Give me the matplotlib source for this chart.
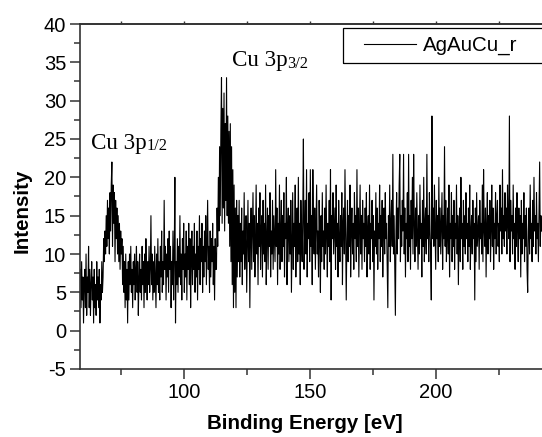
import numpy as np
import matplotlib
matplotlib.use("Agg")
import matplotlib.pyplot as plt
from matplotlib.ticker import MultipleLocator
from matplotlib.patches import Rectangle

plt.rcParams["font.family"] = ["Liberation Sans", "DejaVu Sans"]
plt.rcParams["axes.unicode_minus"] = False

# scan grid: 59.0 eV upward in 0.25 eV steps
e_start, e_step = 59.0, 0.25

# 59.00 - 67.75 eV
counts_start = [
    8, 3, 9, 4, 7, 1, 6, 8, 3, 10, 2, 7, 5, 11, 3, 8, 2, 6, 9, 4,
    7, 1, 8, 3, 6, 2, 9, 4, 7, 3, 8, 1, 6, 4, 9, 5,
]
# 68.00 - 77.75 eV (Cu 3p1/2)
counts_3p12 = [
    7, 12, 9, 13, 10, 15, 11, 17, 12, 16,
    10, 18, 13, 19, 22, 11, 19, 14, 18, 9,
    17, 12, 16, 10, 15, 9, 14, 8, 13, 10,
    12, 6, 11, 5, 9, 3, 10, 4, 8, 1,
]
# 78.00 - 112.75 eV
counts_mid = [
    9, 4, 10, 6, 11, 5, 8, 3, 9, 6,
    10, 4, 8, 11, 5, 9, 2, 7, 10, 5,
    8, 4, 11, 6, 9, 3, 10, 5, 12, 7,
    4, 9, 6, 11, 5, 8, 15, 6, 10, 4,
    9, 5, 11, 7, 3, 10, 6, 12, 5, 9,
    4, 11, 7, 13, 5, 9, 6, 17, 8, 11,
    4, 10, 7, 12, 5, 13, 8, 11, 3, 9,
    6, 13, 4, 10, 20, 1, 9, 6, 12, 5,
    11, 7, 15, 6, 10, 4, 12, 8, 14, 5,
    10, 7, 13, 4, 11, 8, 14, 6, 12, 3,
    9, 13, 6, 11, 8, 14, 5, 10, 7, 13,
    4, 11, 8, 15, 6, 12, 9, 14, 5, 11,
    7, 13, 9, 15, 6, 12, 17, 8, 11, 5,
    13, 7, 12, 9, 14, 6, 11, 4, 12, 8,
]
# 113.00 - 121.75 eV (Cu 3p3/2)
counts_3p32 = [
    8, 16, 11, 20, 13, 24, 15, 26, 33, 14,
    29, 16, 31, 13, 27, 17, 33, 15, 28, 14,
    26, 11, 27, 9, 24, 6, 21, 3, 19, 5,
    16, 3, 17, 7, 15, 9,
]
# 122.00 - 242.00 eV
counts_high = [
    17, 7, 14, 9, 16, 6, 13, 10, 18, 8,
    12, 15, 5, 11, 17, 9, 14, 3, 12, 16,
    8, 13, 18, 9, 15, 7, 12, 19, 10, 14,
    6, 16, 11, 18, 8, 13, 15, 7, 17, 10,
    14, 9, 19, 6, 12, 16, 8, 15, 11, 18,
    7, 13, 10, 17, 8, 15, 12, 9, 21, 11,
    16, 6, 14, 10, 19, 8, 13, 17, 9, 15,
    11, 18, 7, 14, 12, 20, 6, 13, 16, 9,
    15, 10, 17, 5, 12, 18, 8, 14, 11, 19,
    7, 13, 16, 9, 20, 10, 14, 6, 17, 12,
    9, 15, 25, 8, 13, 17, 10, 21, 7, 14,
    12, 18, 9, 21, 11, 15, 6, 21, 13, 10,
    16, 8, 14, 19, 10, 13, 7, 17, 12, 5,
    15, 9, 18, 11, 13, 8, 16, 10, 19, 12,
    7, 14, 11, 17, 9, 21, 4, 15, 12, 18,
    10, 13, 16, 8, 19, 11, 14, 7, 17, 12,
    9, 15, 11, 18, 6, 14, 16, 10, 21, 13,
    4, 12, 17, 9, 15, 11, 19, 7, 13, 16,
    10, 14, 8, 18, 12, 15, 9, 21, 11, 16,
    7, 13, 19, 10, 15, 8, 17, 12, 14, 9,
    16, 11, 18, 7, 13, 15, 10, 19, 8, 14,
    12, 17, 9, 15, 4, 13, 11, 18, 10, 16,
    8, 14, 12, 19, 9, 15, 11, 17, 7, 13,
    16, 10, 18, 12, 14, 8, 3, 15, 11, 19,
    9, 14, 17, 11, 23, 10, 15, 8, 2, 13,
    18, 10, 16, 12, 19, 23, 9, 15, 11, 17,
    13, 23, 10, 16, 7, 14, 12, 18, 9, 23,
    11, 15, 8, 17, 12, 20, 10, 23, 14, 9,
    16, 11, 18, 13, 8, 15, 10, 19, 12, 14,
    7, 17, 11, 20, 9, 14, 16, 10, 23, 12,
    15, 9, 18, 13, 10, 4, 28, 12, 16, 11,
    19, 13, 8, 17, 12, 15, 9, 20, 11, 16,
    10, 14, 18, 8, 15, 12, 24, 11, 17, 9,
    13, 16, 10, 19, 7, 14, 12, 18, 9, 15,
    11, 17, 8, 14, 12, 19, 10, 15, 6, 13,
    16, 9, 20, 12, 14, 8, 17, 11, 15, 10,
    18, 12, 14, 9, 16, 11, 19, 8, 13, 15,
    10, 17, 12, 14, 4, 16, 9, 18, 11, 13,
    15, 8, 17, 12, 14, 10, 19, 9, 21, 13,
    11, 16, 7, 14, 18, 10, 15, 12, 17, 9,
    13, 19, 11, 16, 8, 14, 12, 18, 10, 15,
    17, 11, 14, 9, 19, 13, 16, 10, 21, 12,
    15, 11, 18, 13, 16, 10, 19, 14, 12, 28,
    9, 17, 13, 15, 10, 19, 12, 14, 8, 16,
    11, 18, 13, 9, 16, 12, 15, 7, 17, 10,
    14, 12, 18, 9, 15, 11, 16, 8, 5, 13,
    16, 10, 19, 12, 14, 9, 17, 11, 20, 13,
    15, 10, 18, 12, 14, 9, 16, 22, 11, 15,
    13,
]

counts = np.array(counts_start + counts_3p12 + counts_mid + counts_3p32 + counts_high)
energy = e_start + e_step * np.arange(len(counts))

fig = plt.figure(figsize=(5.42, 4.37), dpi=100)
ax = fig.add_axes([80 / 542, 68 / 437, 467 / 542, 345 / 437])

ax.plot(energy, counts, color="black", lw=0.8, label="AgAuCu_r")

ax.set_xlim(58.85, 58.85 + 467 / 2.52)
ax.set_ylim(-5, 40)
ax.xaxis.set_major_locator(MultipleLocator(50))
ax.xaxis.set_minor_locator(MultipleLocator(25))
ax.yaxis.set_major_locator(MultipleLocator(5))
ax.yaxis.set_minor_locator(MultipleLocator(2.5))

axis_col = "#333333"
for side in ["left", "bottom", "top"]:
    ax.spines[side].set_color(axis_col)
    ax.spines[side].set_linewidth(1.2)
ax.spines["right"].set_visible(False)

ax.tick_params(which="major", direction="out", length=7, width=1.1, colors=axis_col,
               labelcolor="black", labelsize=14.5, pad=3)
ax.tick_params(which="minor", direction="out", length=4, width=1.1, colors=axis_col)

top = ax.secondary_xaxis("top")
top.xaxis.set_major_locator(MultipleLocator(50))
top.xaxis.set_minor_locator(MultipleLocator(25))
top.tick_params(which="both", direction="out", length=2.5, width=1, colors=axis_col,
                labeltop=False)
top.spines["top"].set_color(axis_col)
top.spines["top"].set_linewidth(1.2)

ax.set_xlabel("Binding Energy [eV]", fontsize=14.8, fontweight="bold")
ax.set_ylabel("Intensity", fontsize=14.8, fontweight="bold")
ax.xaxis.set_label_coords(0.482, -0.13)
ax.yaxis.set_label_coords(-0.103, 0.459)

# peak labels
serif = "Liberation Serif"
ax.text(63.1, 23.7, "Cu 3p", family=serif, fontsize=16.6, va="baseline")
ax.text(85.3, 23.5, "1/2", family=serif, fontsize=11.8, va="baseline")
ax.text(119.0, 34.5, "Cu 3p", family=serif, fontsize=16.6, va="baseline")
ax.text(141.1, 34.3, "3/2", family=serif, fontsize=11.8, va="baseline")

ax.legend(loc="center left", bbox_to_anchor=((364 - 80) / 467, (369 - 45.7) / 345),
          frameon=False, borderpad=0, borderaxespad=0, handlelength=53 / 21,
          handletextpad=7 / 21, fontsize=14.8)
ax.add_patch(Rectangle(((343.3 - 80) / 467, (369 - 63.3) / 345), 0.5, 35 / 345,
                       transform=ax.transAxes, fill=False, lw=0.9, ec="black",
                       clip_on=False))

fig.savefig("out.png", dpi=100)
